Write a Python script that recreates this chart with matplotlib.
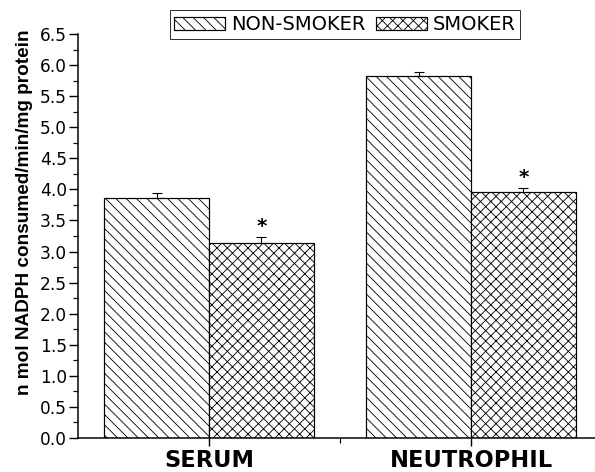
import matplotlib
matplotlib.use("Agg")
import matplotlib.pyplot as plt
import numpy as np
from matplotlib.ticker import MultipleLocator, FormatStrFormatter, FixedLocator

# NADPH consumption (n mol / min / mg protein), mean and SEM
categories = ["SERUM", "NEUTROPHIL"]
series_names = ["NON-SMOKER", "SMOKER"]
nonsmoker = [3.86, 5.82]
nonsmoker_err = [0.08, 0.07]
smoker = [3.14, 3.95]
smoker_err = [0.09, 0.07]
significant = [True, True]  # smoker vs non-smoker

DPI = 62
W, H = 595, 472


def px(v):
    """pixels -> points at the figure dpi"""
    return v * 72.0 / DPI


plt.rcParams["hatch.linewidth"] = 1.0
plt.rcParams["font.family"] = ["DejaVu Sans"]

fig = plt.figure(figsize=(W / DPI, H / DPI), dpi=DPI)
ax = fig.add_axes([78 / W, (H - 438) / H, (W - 78) / W, 404 / H])

x = np.arange(len(categories))
bw = 0.4
bar_kw = dict(width=bw, color="white", edgecolor="black", linewidth=px(1.2))
err_kw = dict(ecolor="black", elinewidth=px(1.1), capsize=px(5), capthick=px(1.1))

b1 = ax.bar(x - bw / 2, nonsmoker, hatch="\\\\", label=series_names[0], **bar_kw)
ax.errorbar(x - bw / 2, nonsmoker, yerr=[np.zeros(len(x)), nonsmoker_err],
            fmt="none", **err_kw)
b2 = ax.bar(x + bw / 2, smoker, hatch="xx", label=series_names[1], **bar_kw)
ax.errorbar(x + bw / 2, smoker, yerr=[np.zeros(len(x)), smoker_err],
            fmt="none", **err_kw)

for xi, v, e, sig in zip(x + bw / 2, smoker, smoker_err, significant):
    if sig:
        ax.annotate("*", xy=(xi, v + e), xytext=(0, px(1)), textcoords="offset points",
                    ha="center", va="bottom", fontsize=px(20), fontweight="bold")

ax.set_xlim(-0.5, 1.473)
ax.set_ylim(0, 6.5)
ax.yaxis.set_major_locator(MultipleLocator(0.5))
ax.yaxis.set_minor_locator(MultipleLocator(0.25))
ax.yaxis.set_major_formatter(FormatStrFormatter("%.1f"))
ax.xaxis.set_major_locator(FixedLocator(x))
ax.xaxis.set_minor_locator(FixedLocator([0.5]))
ax.set_xticklabels(categories, fontsize=px(22.5), fontweight="bold")

for side in ("top", "right"):
    ax.spines[side].set_visible(False)
for side in ("left", "bottom"):
    ax.spines[side].set_linewidth(px(1.5))

ax.tick_params(axis="y", which="major", direction="out", length=px(9), width=px(1.4),
               labelsize=px(17), pad=px(2))
ax.tick_params(axis="y", which="minor", direction="out", length=px(5), width=px(1.2))
ax.tick_params(axis="x", which="major", direction="out", length=px(8), width=px(1.4),
               pad=px(3))
ax.tick_params(axis="x", which="minor", direction="out", length=px(5), width=px(1.2))

ax.set_ylabel("n mol NADPH consumed/min/mg protein", family=["Liberation Sans"],
              fontsize=px(19), fontweight="bold")
ax.yaxis.set_label_coords(-0.088, 0.558)

leg = fig.legend(handles=[b1, b2], loc="center", bbox_to_anchor=(345 / W, 1 - 24.5 / H),
                 ncol=2, frameon=True, fancybox=False, fontsize=px(19.5),
                 handlelength=2.6, handleheight=0.65, handletextpad=0.3,
                 columnspacing=0.55, borderpad=0.25, borderaxespad=0)
leg.get_frame().set_edgecolor("black")
leg.get_frame().set_linewidth(px(1.0))

fig.savefig("out.png", dpi=DPI)
